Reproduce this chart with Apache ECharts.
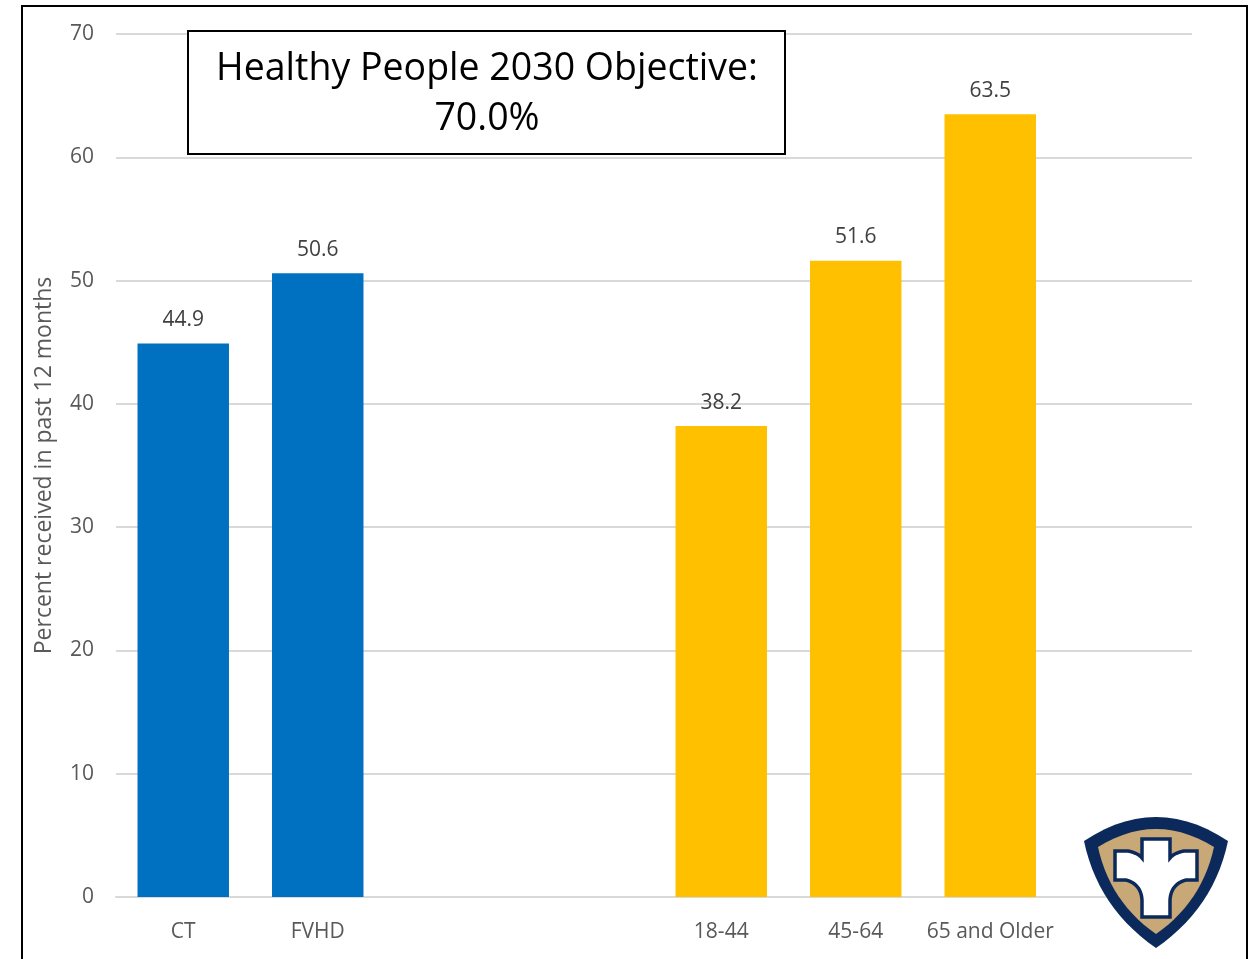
<!DOCTYPE html>
<html>
<head>
<meta charset="utf-8">
<script src="https://cdn.jsdelivr.net/npm/echarts@6/dist/echarts.min.js"></script>
<style>html,body{margin:0;padding:0;background:#fff;}#c{width:1248px;height:959px;}</style>
</head>
<body>
<div id="c"></div>
<script>
const categories = ['CT', 'FVHD', '', '', '18-44', '45-64', '65 and Older', ''];
const values = [44.9, 50.6, null, null, 38.2, 51.6, 63.5, null];
const groups = ['area', 'area', null, null, 'age', 'age', 'age', null];
const groupColors = { area: '#0070C0', age: '#FFC000' };
const yTicks = { min: 0, max: 70, interval: 10 };
const yAxisTitle = 'Percent received in past 12 months';
const objectiveLines = ['Healthy People 2030 Objective:', '70.0%'];

const FONT = '"Open Sans", sans-serif';
const chart = echarts.init(document.getElementById('c'), null, { renderer: 'canvas' });

// logo outline helper: segments of [x,y] (line) or [cx,cy,x,y] (quadratic curve)
function outline(start, segs) {
  const pts = [start.slice()];
  let cur = start.slice();
  segs.forEach(s => {
    if (s.length === 2) { pts.push(s.slice()); cur = s.slice(); }
    else {
      for (let t = 1; t <= 14; t++) {
        const u = t / 14, a = (1 - u) * (1 - u), b = 2 * u * (1 - u), c = u * u;
        pts.push([a * cur[0] + b * s[0] + c * s[2], a * cur[1] + b * s[1] + c * s[3]]);
      }
      cur = [s[2], s[3]];
    }
  });
  return pts;
}
const shieldOuter = outline([1084, 841], [[1156, 793, 1228, 841], [1214, 908, 1156, 948], [1098, 908, 1084, 841]]);
const shieldInner = outline([1098, 847], [[1156, 811, 1214, 847], [1202, 902, 1156, 934], [1110, 902, 1098, 847]]);
const cross = outline([1142, 839], [[1170, 839], [1170, 858], [1174, 853, 1184, 851], [1197, 851], [1197, 880], [1186, 880], [1171, 884, 1170, 900], [1170, 917], [1142, 917], [1142, 900], [1141, 884, 1126, 880], [1115, 880], [1115, 851], [1128, 851], [1138, 853, 1142, 858]]);

chart.setOption({
  animation: false,
  grid: { left: 116, right: 56, top: 34, bottom: 62 },
  xAxis: {
    type: 'category',
    data: categories,
    axisLine: { show: true, lineStyle: { color: '#d9d9d9', width: 2 } },
    axisTick: { show: false },
    axisLabel: { color: '#595959', fontSize: 21, fontFamily: FONT, margin: 25, interval: 0 }
  },
  yAxis: {
    type: 'value',
    min: yTicks.min, max: yTicks.max, interval: yTicks.interval,
    name: yAxisTitle,
    nameLocation: 'middle',
    nameGap: 60,
    nameTextStyle: { color: '#595959', fontSize: 23, fontFamily: FONT },
    axisLine: { show: false },
    axisTick: { show: false },
    axisLabel: { color: '#595959', fontSize: 21, fontFamily: FONT, margin: 22 },
    splitLine: { lineStyle: { color: '#d9d9d9', width: 2 } }
  },
  series: [{
    type: 'bar',
    barWidth: '68%',
    data: values.map((v, i) => ({ value: v, itemStyle: { color: groups[i] ? groupColors[groups[i]] : '#fff' } })),
    label: {
      show: true, position: 'top', distance: 13,
      color: '#404040', fontSize: 21, fontFamily: FONT,
      formatter: p => (p.value == null ? '' : p.value.toFixed(1))
    }
  }],
  graphic: [
    { type: 'rect', shape: { x: 22, y: 6, width: 1225, height: 980 }, style: { fill: 'none', stroke: '#000', lineWidth: 2 }, z: 100 },
    { type: 'rect', shape: { x: 188, y: 31, width: 597, height: 123 }, style: { fill: '#fff', stroke: '#000', lineWidth: 2 }, z: 50 },
    { type: 'text', style: { text: objectiveLines[0], x: 487, y: 69, textAlign: 'center', textVerticalAlign: 'middle', font: '37.5px ' + FONT, fill: '#000' }, z: 51 },
    { type: 'text', style: { text: objectiveLines[1], x: 487, y: 119, textAlign: 'center', textVerticalAlign: 'middle', font: '37.5px ' + FONT, fill: '#000' }, z: 51 },
    { type: 'polygon', shape: { points: shieldOuter }, style: { fill: '#0b2a5b' }, z: 60 },
    { type: 'polygon', shape: { points: shieldInner }, style: { fill: '#c9a877' }, z: 61 },
    { type: 'polygon', shape: { points: cross }, style: { fill: '#fff', stroke: '#0b2a5b', lineWidth: 3.5 }, z: 62 }
  ]
});
</script>
</body>
</html>
